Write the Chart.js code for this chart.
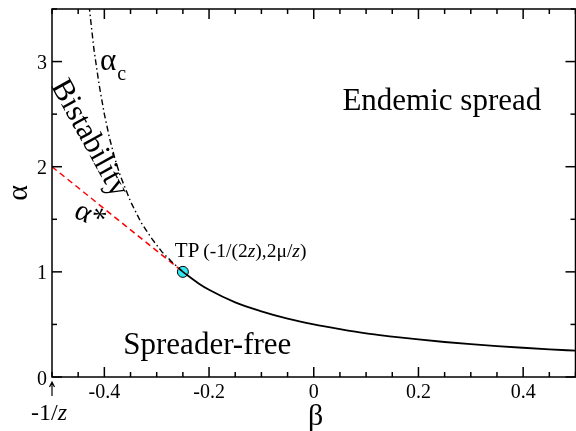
<!DOCTYPE html>
<html><head><meta charset="utf-8">
<script src="https://cdn.jsdelivr.net/npm/chart.js@4.4.1/dist/chart.umd.min.js"></script>
<style>html,body{margin:0;padding:0;overflow:hidden;background:#fff}</style>
</head><body>
<canvas id="c" width="582" height="431" style="display:block;width:582px;height:431px"></canvas>
<script>
// ---- data ----
const solidBeta  = [-0.25,-0.22,-0.2,-0.15,-0.1,-0.05,0,0.05,0.1,0.15,0.2,0.25,0.3,0.35,0.4,0.45,0.5];
const solidAlpha = [1.0,0.89,0.83,0.71,0.625,0.555,0.50,0.455,0.415,0.385,0.357,0.333,0.312,0.294,0.278,0.263,0.25];
const critBeta   = [-0.25,-0.27,-0.29,-0.31,-0.33,-0.35,-0.37,-0.38,-0.39,-0.40,-0.41,-0.42,-0.43];
const critAlpha  = [1.0,1.09,1.19,1.32,1.47,1.67,1.92,2.08,2.27,2.5,2.78,3.12,3.57];
const starBeta   = [-0.5,-0.25];
const starAlpha  = [2.0,1.0];
const tpBeta     = [-0.25];
const tpAlpha    = [1.0];
const xTickValues = [-0.4,-0.2,0,0.2,0.4];
const xTickLabels = ['-0.4','-0.2','0','0.2','0.4'];
const yTickValues = [0,1,2,3];
const yTickLabels = ['0','1','2','3'];

const serif = '"Liberation Serif", "Times New Roman", serif';
const pts = (bs, as) => bs.map((b,i)=>({x:b,y:as[i]}));

const txt = (ctx, t, px, py, size, opts={}) => {
  ctx.save();
  ctx.translate(px, py);
  if (opts.rot) ctx.rotate(opts.rot * Math.PI / 180);
  ctx.font = (opts.italic ? 'italic ' : '') + size + 'px ' + serif;
  ctx.fillStyle = '#000';
  ctx.textAlign = opts.align || 'left';
  ctx.textBaseline = opts.base || 'alphabetic';
  ctx.fillText(t, 0, 0);
  const w = ctx.measureText(t).width;
  ctx.restore();
  return w;
};

const axesPlugin = {
  id: 'axesFrame',
  afterDatasetsDraw(ch) {
    const {ctx, chartArea: a, scales: {x, y}} = ch;
    ctx.save();
    ctx.strokeStyle = '#000';
    ctx.lineWidth = 1.5;
    ctx.strokeRect(a.left, a.top, a.right - a.left, a.bottom - a.top);
    const line = (x1,y1,x2,y2)=>{ctx.beginPath();ctx.moveTo(x1,y1);ctx.lineTo(x2,y2);ctx.stroke();};
    for (let k = 0; k <= 20; k++) {
      const v = -0.5 + k * 0.05;
      const px = x.getPixelForValue(v);
      const major = Math.abs(v/0.2 - Math.round(v/0.2)) < 1e-6;
      const L = major ? 10 : 5;
      line(px, a.bottom, px, a.bottom - L);
      line(px, a.top, px, a.top + L);
    }
    for (let k = 0; k <= 7; k++) {
      const v = k * 0.5;
      const py = y.getPixelForValue(v);
      const L = (k % 2 === 0) ? 10 : 5;
      line(a.left, py, a.left + L, py);
      line(a.right, py, a.right - L, py);
    }
    // tick labels
    xTickValues.forEach((v, i) => txt(ctx, xTickLabels[i], x.getPixelForValue(v), a.bottom + 21, 20, {align: 'center'}));
    yTickValues.forEach((v, i) => txt(ctx, yTickLabels[i], a.left - 5, y.getPixelForValue(v) + 7.5, 20, {align: 'right'}));
    // axis titles
    txt(ctx, 'β', x.getPixelForValue(0) + 2, a.bottom + 40, 30, {align: 'center', base: 'middle'});
    txt(ctx, 'α', a.left - 33, (a.top + a.bottom) / 2, 30, {align: 'center', base: 'middle', rot: -90});
    ctx.restore();
  }
};

const annotPlugin = {
  id: 'annot',
  afterDraw(ch) {
    const {ctx, chartArea: a, scales: {x, y}} = ch;
    const P = (b, al) => [x.getPixelForValue(b), y.getPixelForValue(al)];
    let p;
    p = P(0.0547, 2.54); txt(ctx, 'Endemic spread', p[0], p[1], 31);
    p = P(-0.3638, 0.222); txt(ctx, 'Spreader-free', p[0], p[1], 31);
    // TP label
    p = P(-0.2653, 1.143);
    let cx = p[0];
    cx += txt(ctx, 'TP', cx, p[1], 21);
    cx += 4;
    const segs = [['(-1/(2',false],['z',true],['),2μ/',false],['z',true],[')',false]];
    for (const [s, it] of segs) cx += txt(ctx, s, cx, p[1], 19.5, {italic: it});
    // alpha_c
    p = P(-0.4082, 2.92);
    const wa = txt(ctx, 'α', p[0], p[1], 31);
    txt(ctx, 'c', p[0] + wa + 1, p[1] + 10, 20);
    // Bistability
    p = P(-0.429, 2.27);
    txt(ctx, 'Bistability', p[0], p[1], 31, {rot: 61, align: 'center', base: 'middle'});
    // alpha*
    p = P(-0.4272, 1.53);
    txt(ctx, 'α*', p[0], p[1], 30, {rot: 25, align: 'center', base: 'middle'});
    // -1/z marker below the axis: arrow pointing up at beta=-0.5
    const x0 = x.getPixelForValue(-0.5);
    ctx.save();
    ctx.strokeStyle = '#000';
    ctx.lineWidth = 1.2;
    ctx.beginPath();
    ctx.moveTo(x0, a.bottom + 19); ctx.lineTo(x0, a.bottom + 6);
    ctx.moveTo(x0 - 2.5, a.bottom + 10); ctx.lineTo(x0, a.bottom + 5); ctx.lineTo(x0 + 2.5, a.bottom + 10);
    ctx.stroke();
    ctx.restore();
    let lx = x0 - 21;
    const sy = a.bottom + 43;
    lx += txt(ctx, '-1/', lx, sy, 24);
    txt(ctx, 'z', lx, sy, 24, {italic: true});
  }
};

new Chart(document.getElementById('c'), {
  type: 'scatter',
  data: {
    datasets: [
      {data: pts(critBeta, critAlpha), showLine: true, borderColor: '#000', borderWidth: 1.4,
       borderDash: [6,3,1.5,3], pointRadius: 0, fill: false, tension: 0},
      {data: pts(starBeta, starAlpha), showLine: true, borderColor: '#ff0000', borderWidth: 1.5,
       borderDash: [6,4], pointRadius: 0, fill: false},
      {data: pts(solidBeta, solidAlpha), showLine: true, borderColor: '#000', borderWidth: 1.8,
       pointRadius: 0, fill: false, cubicInterpolationMode: 'monotone'},
      {data: pts(tpBeta, tpAlpha), showLine: false, pointRadius: 5.5, pointBackgroundColor: '#33e6f0',
       pointBorderColor: '#000', pointBorderWidth: 1}
    ]
  },
  options: {
    responsive: false, devicePixelRatio: 1, animation: false,
    layout: {padding: {top: 9, right: 1, left: 52, bottom: 54}},
    plugins: {legend: {display: false}, tooltip: {enabled: false}},
    scales: {
      x: {type: 'linear', min: -0.5, max: 0.5, display: false},
      y: {type: 'linear', min: 0, max: 3.5, display: false}
    }
  },
  plugins: [axesPlugin, annotPlugin]
});
</script>
</body></html>
